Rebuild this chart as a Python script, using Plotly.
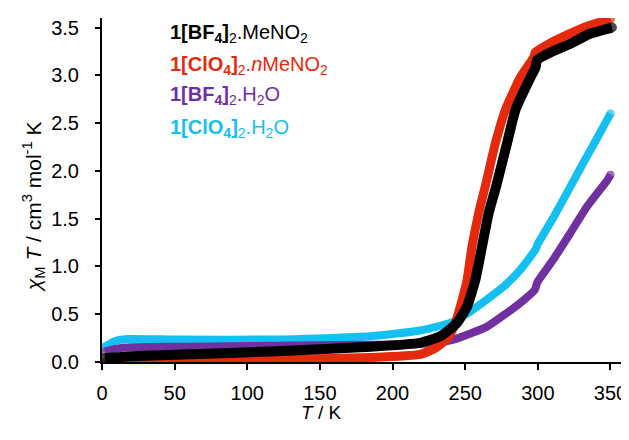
import plotly.graph_objects as go

# ---- data ----
T_bf4_meno2 = [2, 20, 60, 116, 185, 219, 233, 244.4, 251.3, 257, 261.6, 266.2, 271.5, 278.8, 284.6, 295, 298.4,
               299.5, 310, 322.4, 335, 351]
X_bf4_meno2 = [0.04, 0.06, 0.08, 0.11, 0.16, 0.20, 0.27, 0.41, 0.58, 0.86, 1.21, 1.56, 1.85, 2.29, 2.64, 2.98, 3.08,
               3.16, 3.25, 3.33, 3.43, 3.50]

T_clo4_meno2 = [2, 50, 116, 185, 219, 230, 238, 243, 247, 251.3, 254.7, 259.3, 264, 270.8, 277.7, 288, 297.2,
                298.3, 310, 322.4, 335, 350]
X_clo4_meno2 = [0.0, 0.01, 0.025, 0.047, 0.08, 0.15, 0.25, 0.40, 0.60, 0.86, 1.21, 1.56, 1.85, 2.29, 2.64, 2.98, 3.19,
                3.24, 3.35, 3.44, 3.52, 3.59]

T_bf4_h2o = [2, 10, 20, 60, 119, 185, 219, 233, 242, 265, 288, 298,
             299.5, 311, 322.4, 334, 347.7, 350]
X_bf4_h2o = [0.11, 0.14, 0.155, 0.16, 0.17, 0.18, 0.19, 0.21, 0.235, 0.37, 0.62, 0.757,
             0.83, 1.08, 1.35, 1.63, 1.90, 1.96]

T_clo4_h2o = [1, 9, 18, 50, 119, 185, 219, 240, 253.6, 276.5, 288, 298.5,
              299.8, 311, 322.4, 329, 340, 350]
X_clo4_h2o = [0.15, 0.22, 0.24, 0.235, 0.235, 0.27, 0.33, 0.41, 0.53, 0.79, 0.966, 1.18,
              1.23, 1.52, 1.835, 2.02, 2.32, 2.60]

x_ticks = [0, 50, 100, 150, 200, 250, 300, 350]
y_ticks = [0, 0.5, 1, 1.5, 2, 2.5, 3, 3.5]

legend_labels = [
    "<b>1[BF<sub>4</sub>]</b><sub>2</sub>.MeNO<sub>2</sub>",
    "<b>1[ClO<sub>4</sub>]</b><sub>2</sub>.<i>n</i>MeNO<sub>2</sub>",
    "<b>1[BF<sub>4</sub>]</b><sub>2</sub>.H<sub>2</sub>O",
    "<b>1[ClO<sub>4</sub>]</b><sub>2</sub>.H<sub>2</sub>O",
]

C_BLACK = "#000000"
C_RED = "#E5290C"
C_PURPLE = "#7030A0"
C_CYAN = "#14C0F2"

FONT = "Liberation Sans, Arial, sans-serif"

fig = go.Figure()

traces = [
    (T_clo4_h2o, X_clo4_h2o, C_CYAN, 8, "1[ClO4]2.H2O"),
    (T_bf4_h2o, X_bf4_h2o, C_PURPLE, 8, "1[BF4]2.H2O"),
    (T_clo4_meno2, X_clo4_meno2, C_RED, 9, "1[ClO4]2.nMeNO2"),
    (T_bf4_meno2, X_bf4_meno2, C_BLACK, 10, "1[BF4]2.MeNO2"),
]
for tx, vy, col, w, nm in traces:
    n = len(tx)
    fig.add_trace(go.Scatter(
        x=tx, y=vy, mode="lines+markers", name=nm,
        line=dict(color=col, width=w, shape="spline", smoothing=0.5),
        marker=dict(color=col, size=[w] + [0] * (n - 2) + [w], line=dict(width=0)),
        showlegend=False, hoverinfo="skip",
    ))

# legend as text annotations
leg_colors = [C_BLACK, C_RED, C_PURPLE, C_CYAN]
leg_y = [0.955, 0.862, 0.775, 0.680]
for lab, col, yy in zip(legend_labels, leg_colors, leg_y):
    fig.add_annotation(text=lab, xref="paper", yref="paper", x=0.127, y=yy,
                       xanchor="left", yanchor="middle", showarrow=False,
                       font=dict(family=FONT, size=20, color=col))

# axis titles
fig.add_annotation(text="<i>T</i> / K", xref="paper", yref="paper", x=0.418, y=-0.147,
                   xanchor="center", yanchor="middle", showarrow=False,
                   font=dict(family=FONT, size=19, color="#000"))
fig.add_annotation(text="<i>χ</i><sub>M</sub> <i>T</i> / cm<sup>3</sup> mol<sup>-1</sup> K",
                   xref="paper", yref="paper", x=-0.132, y=0.453, textangle=-90,
                   xanchor="center", yanchor="middle", showarrow=False,
                   font=dict(family=FONT, size=21, color="#000"))

# page body has an 8px margin: size the figure so the plot lands where the reference has it
fig.update_layout(
    width=621, height=432,
    margin=dict(l=94, r=4, t=10, b=78, autoexpand=False),
    paper_bgcolor="white", plot_bgcolor="white",
    font=dict(family=FONT, size=19, color="#000"),
)
fig.update_xaxes(range=[0, 360], tickvals=x_ticks,
                 automargin=False,
                 showgrid=False, zeroline=False, showline=True, linecolor="#000", linewidth=2,
                 ticks="outside", ticklen=6, tickwidth=2, tickcolor="#000",
                 ticklabelstandoff=6, tickfont=dict(family=FONT, size=20))
fig.update_yaxes(range=[0, 3.6], tickvals=y_ticks,
                 tickformat=".1f", automargin=False,
                 showgrid=False, zeroline=False, showline=True, linecolor="#000", linewidth=2,
                 ticks="outside", ticklen=5, tickwidth=2, tickcolor="#000",
                 ticklabelstandoff=12, tickfont=dict(family=FONT, size=20))

fig.write_html("out.html")
